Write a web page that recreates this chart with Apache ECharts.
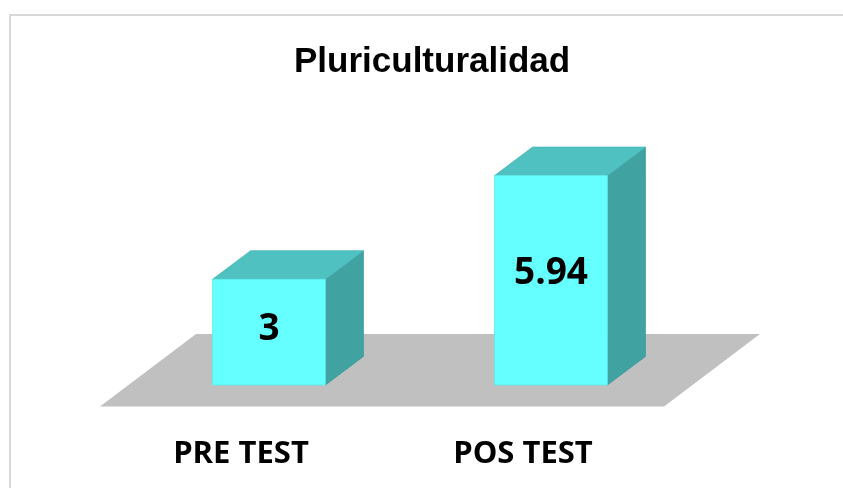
<!DOCTYPE html>
<html>
<head>
<meta charset="utf-8">
<script src="https://cdn.jsdelivr.net/npm/echarts@6/dist/echarts.min.js"></script>
<style>
  html, body { margin: 0; padding: 0; background: #fff; }
  #main { width: 843px; height: 488px; }
</style>
</head>
<body>
<div id="main"></div>
<script>
// datos del grafico
const categorias = ['PRE TEST', 'POS TEST']
const valores = [3, 5.94]
const titulo = 'Pluriculturalidad'

// desplazamiento de profundidad (efecto 3D)
const prof = [38, -28.5]
const pisoFrente = [-28, 21.5]
const pisoFondo = [68, -51]

const chart = echarts.init(document.getElementById('main'))

const option = {
  backgroundColor: '#fff',
  animation: false,
  title: {
    text: titulo,
    left: 294,
    top: 45,
    padding: 0,
    textStyle: {
      fontFamily: 'Liberation Sans',
      fontWeight: 'bold',
      fontSize: 35,
      color: '#000'
    }
  },
  graphic: [
    {
      type: 'rect',
      z: -10,
      shape: { x: 10, y: 15, width: 900, height: 600 },
      style: { fill: null, stroke: '#d9d9d9', lineWidth: 2 }
    }
  ],
  grid: {
    left: 128,
    right: 151,
    top: 103,
    bottom: 103
  },
  xAxis: {
    type: 'category',
    data: categorias,
    axisLine: { show: false },
    axisTick: { show: false },
    axisLabel: {
      margin: 54,
      padding: [0, 56, 0, 0],
      lineHeight: 30,
      fontFamily: 'Open Sans',
      fontWeight: 'bold',
      fontSize: 31,
      color: '#000'
    }
  },
  yAxis: {
    type: 'value',
    min: 0,
    max: 8,
    show: false,
    splitLine: { show: false }
  },
  series: [
    {
      // piso gris
      type: 'custom',
      z: 1,
      silent: true,
      data: [0],
      renderItem (params, api) {
        const cs = params.coordSys
        const base = api.coord([0, 0])[1]
        const l = cs.x
        const r = cs.x + cs.width
        return {
          type: 'polygon',
          shape: {
            points: [
              [l + pisoFrente[0], base + pisoFrente[1]],
              [r + pisoFrente[0], base + pisoFrente[1]],
              [r + pisoFondo[0], base + pisoFondo[1]],
              [l + pisoFondo[0], base + pisoFondo[1]]
            ]
          },
          style: { fill: '#c0c0c0' }
        }
      }
    },
    {
      type: 'custom',
      z: 2,
      data: valores.map((v, i) => [i, v]),
      renderItem (params, api) {
        const p = api.coord([api.value(0), api.value(1)])
        const b = api.coord([api.value(0), 0])
        const w = api.size([1, 0])[0] * 0.4
        const x0 = p[0] - w / 2
        const x1 = p[0] + w / 2
        const top = p[1]
        const bot = b[1]
        const h = bot - top
        const [dx, dy] = prof
        return {
          type: 'group',
          children: [
            {
              type: 'polygon',
              shape: { points: [[x1, top], [x1 + dx, top + dy], [x1 + dx, bot + dy], [x1, bot]] },
              style: { fill: '#41a2a2', stroke: '#3a9a9a', lineWidth: 0.8 }
            },
            {
              type: 'polygon',
              shape: { points: [[x0, top], [x1, top], [x1 + dx, top + dy], [x0 + dx, top + dy]] },
              style: { fill: '#4fc1c1', stroke: '#48b8b8', lineWidth: 0.8 }
            },
            {
              type: 'rect',
              shape: { x: x0, y: top, width: w, height: h },
              style: { fill: '#66ffff', stroke: '#5ce8e8', lineWidth: 0.8 }
            },
            {
              type: 'text',
              x: p[0],
              y: top + h / 2 - h * 0.04 + 2,
              style: {
                text: String(api.value(1)),
                fontFamily: 'Open Sans',
                fontWeight: 'bold',
                fontSize: 37,
                fill: '#000',
                align: 'center',
                verticalAlign: 'middle'
              }
            }
          ]
        }
      }
    }
  ]
}

chart.setOption(option)
</script>
</body>
</html>
